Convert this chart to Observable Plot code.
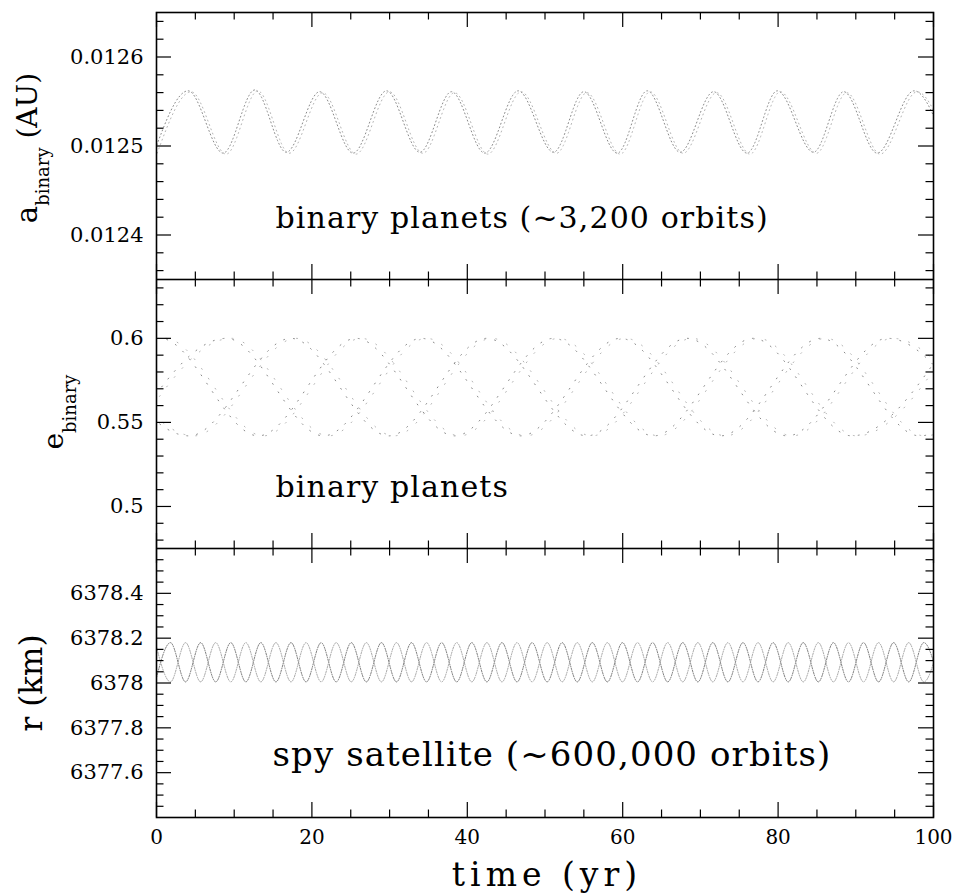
<!DOCTYPE html>
<html><head><meta charset="utf-8">
<script src="https://cdn.jsdelivr.net/npm/d3@7"></script>
<script src="https://cdn.jsdelivr.net/npm/@observablehq/plot@0.6"></script>
<style>
body{margin:0;background:#fff;}
#chart svg{display:block;}
</style></head><body><div id="chart"></div>
<script>
// ---- shared time axis ----
const timeMajor = [0, 20, 40, 60, 80, 100];
const timeLabels = ["0", "20", "40", "60", "80", "100"];
const timeMinor = [5, 10, 15, 25, 30, 35, 45, 50, 55, 65, 70, 75, 85, 90, 95];

// ---- panel 1: a_binary (AU) ----
const aTickValues = [0.0124, 0.0125, 0.0126];
const aTickLabels = ["0.0124", "0.0125", "0.0126"];
const aMinor = [0.01236, 0.01238, 0.01242, 0.01244, 0.01246, 0.01248, 0.01252, 0.01254, 0.01256, 0.01258, 0.01262, 0.01264];
// turning points (troughs / crests)
const aTimes = [-0.3, 4.08, 8.58, 12.65, 16.7, 21.0, 25.3, 29.6, 33.9, 37.97, 42.25, 46.55, 51.1, 55.0, 59.3, 63.15, 67.4, 71.7, 76.0, 79.9, 84.55, 88.45, 92.75, 97.5, 101.8];
const aValues = [0.012493, 0.012562, 0.012492, 0.012563, 0.012493, 0.012561, 0.012492, 0.012562, 0.012493, 0.012561, 0.012492, 0.012562, 0.012493, 0.012561, 0.012492, 0.012562, 0.012493, 0.012561, 0.012492, 0.012562, 0.012493, 0.012561, 0.012492, 0.012562, 0.012493];

// ---- panel 2: e_binary ----
const eTickValues = [0.5, 0.55, 0.6];
const eTickLabels = ["0.5", "0.55", "0.6"];
const eMinor = [0.48, 0.49, 0.51, 0.52, 0.53, 0.54, 0.56, 0.57, 0.58, 0.59, 0.61, 0.62, 0.63];
const eATimes = [-12.3, 0.5, 13.1, 25.7, 38.4, 51.1, 64.0, 76.8, 89.5, 102.2];
const eAValues = [0.542, 0.600, 0.542, 0.600, 0.542, 0.600, 0.542, 0.600, 0.542, 0.600];
const eBTimes = [-3.8, 9.0, 21.5, 34.1, 46.9, 59.7, 72.6, 85.5, 98.2, 110.9];
const eBValues = [0.542, 0.600, 0.542, 0.600, 0.542, 0.600, 0.542, 0.600, 0.542, 0.600];
const eCTimes = [-8.4, 4.2, 17.3, 29.9, 42.5, 55.4, 68.3, 81.2, 94.1, 106.8];
const eCValues = [0.600, 0.542, 0.600, 0.542, 0.600, 0.542, 0.600, 0.542, 0.600, 0.542];

// ---- panel 3: r (km) ----
const rTickValues = [6377.6, 6377.8, 6378.0, 6378.2, 6378.4];
const rTickLabels = ["6377.6", "6377.8", "6378", "6378.2", "6378.4"];
const rMinor = [6377.45, 6377.5, 6377.55, 6377.65, 6377.7, 6377.75, 6377.85, 6377.9, 6377.95, 6378.05, 6378.1, 6378.15, 6378.25, 6378.3, 6378.35, 6378.45, 6378.5, 6378.55];
const rTimes = [-0.14, 1.80, 3.74, 5.68, 7.62, 9.56, 11.50, 13.43, 15.37, 17.31, 19.25, 21.19, 23.13, 25.07, 27.01, 28.95, 30.89, 32.82, 34.76, 36.70, 38.64, 40.58, 42.52, 44.46, 46.40, 48.34, 50.28, 52.21, 54.15, 56.09, 58.03, 59.97, 61.91, 63.85, 65.79, 67.73, 69.67, 71.60, 73.54, 75.48, 77.42, 79.36, 81.30, 83.24, 85.18, 87.12, 89.06, 90.99, 92.93, 94.87, 96.81, 98.75, 100.69];
const rAValues = [6378.005, 6378.18, 6378.005, 6378.18, 6378.005, 6378.18, 6378.005, 6378.18, 6378.005, 6378.18, 6378.005, 6378.18, 6378.005, 6378.18, 6378.005, 6378.18, 6378.005, 6378.18, 6378.005, 6378.18, 6378.005, 6378.18, 6378.005, 6378.18, 6378.005, 6378.18, 6378.005, 6378.18, 6378.005, 6378.18, 6378.005, 6378.18, 6378.005, 6378.18, 6378.005, 6378.18, 6378.005, 6378.18, 6378.005, 6378.18, 6378.005, 6378.18, 6378.005, 6378.18, 6378.005, 6378.18, 6378.005, 6378.18, 6378.005, 6378.18, 6378.005, 6378.18, 6378.005];
const rBValues = [6378.18, 6378.005, 6378.18, 6378.005, 6378.18, 6378.005, 6378.18, 6378.005, 6378.18, 6378.005, 6378.18, 6378.005, 6378.18, 6378.005, 6378.18, 6378.005, 6378.18, 6378.005, 6378.18, 6378.005, 6378.18, 6378.005, 6378.18, 6378.005, 6378.18, 6378.005, 6378.18, 6378.005, 6378.18, 6378.005, 6378.18, 6378.005, 6378.18, 6378.005, 6378.18, 6378.005, 6378.18, 6378.005, 6378.18, 6378.005, 6378.18, 6378.005, 6378.18, 6378.005, 6378.18, 6378.005, 6378.18, 6378.005, 6378.18, 6378.005, 6378.18, 6378.005, 6378.18];

const annotations = ["binary planets (~3,200 orbits)", "binary planets", "spy satellite (~600,000 orbits)"];
const xTitle = "time (yr)";

// ---- layout ----
const W = 953, ML = 156, MR = 20;
const FW = W - ML - MR;
const FONT = "DejaVu Serif";

const rows = (ts, vs) => ts.map((t, i) => ({t, v: vs[i]}));

function frameTicks(fh, yMajor, yMinor) {
  const M = 15, m = 7.5, s = {stroke: "black", strokeWidth: 1.2};
  return [
    Plot.ruleX(timeMajor, {...s, insetTop: fh - M}),
    Plot.ruleX(timeMajor, {...s, insetBottom: fh - M}),
    Plot.ruleX(timeMinor, {...s, insetTop: fh - m}),
    Plot.ruleX(timeMinor, {...s, insetBottom: fh - m}),
    Plot.ruleY(yMajor, {...s, insetRight: FW - M}),
    Plot.ruleY(yMajor, {...s, insetLeft: FW - M}),
    Plot.ruleY(yMinor, {...s, insetRight: FW - m}),
    Plot.ruleY(yMinor, {...s, insetLeft: FW - m}),
    Plot.frame({stroke: "black", strokeWidth: 1.6})
  ];
}

function yAxis(values, labels) {
  return Plot.axisY({ticks: values, tickFormat: d => labels[values.indexOf(d)], tickSize: 0, tickPadding: 13, fontSize: 21, fill: "black", label: null});
}

function note(text, dx, size) {
  return Plot.text([text], {frameAnchor: "bottom-left", dx, dy: -52, lineAnchor: "bottom", textAnchor: "start", fontSize: size, fill: "black"});
}

const style = {fontFamily: FONT, background: "white", color: "black", fontSize: "21px"};

// Panel 1
const h1 = 279, t1 = 12;
const p1 = Plot.plot({
  width: W, height: h1, marginTop: t1, marginBottom: 0, marginLeft: ML, marginRight: MR,
  x: {domain: [0, 100], axis: null, label: null}, y: {domain: [0.01235, 0.01265], label: null}, style,
  marks: [
    Plot.line(rows(aTimes, aValues), {x: "t", y: "v", curve: "monotone-x", stroke: "#8a8a8a", strokeWidth: 1, strokeDasharray: "1 2.8", clip: true}),
    Plot.line(rows(aTimes, aValues), {x: "t", y: "v", curve: "monotone-x", stroke: "#b4b4b4", strokeWidth: 1, strokeDasharray: "1 3.6", dx: 3, dy: 1, clip: true}),
    ...frameTicks(h1 - t1, aTickValues, aMinor),
    yAxis(aTickValues, aTickLabels),
    note(annotations[0], 119, 30)
  ]
});

// Panel 2
const h2 = 269;
const eStyle = {x: "t", y: "v", curve: "monotone-x", stroke: "#8a8a8a", strokeWidth: 1, strokeDasharray: "1 9", clip: true};
const eStyle2 = {...eStyle, stroke: "#b4b4b4", strokeDasharray: "1 11", dx: 5};
const p2 = Plot.plot({
  width: W, height: h2, marginTop: 0, marginBottom: 0, marginLeft: ML, marginRight: MR,
  x: {domain: [0, 100], axis: null, label: null}, y: {domain: [0.475, 0.635], label: null}, style,
  marks: [
    Plot.line(rows(eATimes, eAValues), eStyle),
    Plot.line(rows(eBTimes, eBValues), eStyle),
    Plot.line(rows(eCTimes, eCValues), eStyle),
    Plot.line(rows(eATimes, eAValues), eStyle2),
    Plot.line(rows(eBTimes, eBValues), eStyle2),
    Plot.line(rows(eCTimes, eCValues), eStyle2),
    ...frameTicks(h2, eTickValues, eMinor),
    yAxis(eTickValues, eTickLabels),
    note(annotations[1], 119, 30)
  ]
});

// Panel 3
const h3 = 895 - 548, b3 = 895 - 817;
const rStyle = {x: "t", y: "v", curve: "monotone-x", stroke: "#707070", strokeWidth: 1, strokeDasharray: "1 1.5", clip: true};
const p3 = Plot.plot({
  width: W, height: h3, marginTop: 0, marginBottom: b3, marginLeft: ML, marginRight: MR,
  x: {domain: [0, 100], label: null}, y: {domain: [6377.4, 6378.6], label: null}, style,
  marks: [
    Plot.line(rows(rTimes, rAValues), rStyle),
    Plot.line(rows(rTimes, rBValues), {...rStyle, stroke: "#a0a0a0"}),
    ...frameTicks(h3 - b3, rTickValues, rMinor),
    yAxis(rTickValues, rTickLabels),
    Plot.axisX({ticks: timeMajor, tickFormat: d => timeLabels[timeMajor.indexOf(d)], tickSize: 0, tickPadding: 12, fontSize: 20, fill: "black", label: null}),
    Plot.text([xTitle], {frameAnchor: "bottom", dx: 2, dy: 68, lineAnchor: "bottom", fontSize: 33, fill: "black"}),
    note(annotations[2], 116, 34)
  ]
});

const chart = document.getElementById("chart");
[p1, p2, p3].forEach(p => chart.appendChild(p));

// letter spacing for the wide plotter-style lettering
d3.selectAll("#chart text").each(function() {
  const s = this.textContent;
  if (annotations.includes(s)) this.setAttribute("letter-spacing", "1.1px");
  if (s === xTitle) this.setAttribute("letter-spacing", "5px");
});

// rotated y-axis titles with subscripts
function yTitle(svg, x, y, parts) {
  const t = d3.select(svg).append("text")
    .attr("transform", `translate(${x},${y}) rotate(-90)`)
    .attr("text-anchor", "middle").attr("fill", "black")
    .attr("font-family", FONT).attr("font-size", 28);
  parts.forEach(([txt, size, dy]) => t.append("tspan").attr("font-size", size).attr("dy", dy).text(txt));
}
yTitle(p1, 37, 148, [["a", 29, 0], ["binary", 18, 12], ["\u00a0(AU)", 28, -12]]);
yTitle(p2, 63, 412 - 279, [["e", 28, 0], ["binary", 18, 13]]);
yTitle(p3, 42, 683 - 548, [["r\u00a0(km)", 31, 0]]);
</script></body></html>
